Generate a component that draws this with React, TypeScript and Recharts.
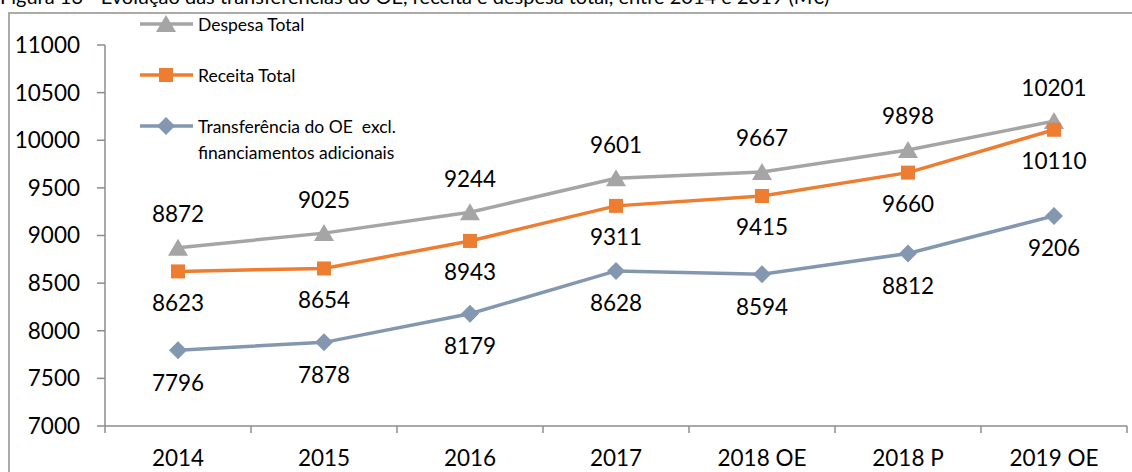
import { LineChart, Line, XAxis, YAxis, LabelList } from 'recharts';

const categories = ['2014', '2015', '2016', '2017', '2018 OE', '2018 P', '2019 OE'];
const despesaTotal = [8872, 9025, 9244, 9601, 9667, 9898, 10201];
const receitaTotal = [8623, 8654, 8943, 9311, 9415, 9660, 10110];
const transferenciaOE = [7796, 7878, 8179, 8628, 8594, 8812, 9206];
const yTicks = [7000, 7500, 8000, 8500, 9000, 9500, 10000, 10500, 11000];

const W = 1132;
const H = 472;
const M = { top: 45, right: 5, left: 0, bottom: 0 };
const Y_W = 105;
const BAND = (W - M.left - Y_W - M.right) / categories.length;

const GREY = '#A5A5A5';
const ORANGE = '#ED7D31';
const BLUE = '#8497B0';
const AXIS = '#8C8C8C';
const FONT = 'Lato, "Open Sans", sans-serif';

const data = categories.map((c, i) => ({
  cat: c,
  despesa: despesaTotal[i],
  receita: receitaTotal[i],
  transf: transferenciaOE[i],
}));

const Triangle = ({ cx, cy, fill }: any) =>
  cx == null ? null : (
    <polygon points={`${cx},${cy - 9} ${cx + 10},${cy + 8} ${cx - 10},${cy + 8}`} fill={fill} />
  );
const Square = ({ cx, cy, fill }: any) =>
  cx == null ? null : <rect x={cx - 7} y={cy - 7} width={14} height={14} fill={fill} />;
const Diamond = ({ cx, cy, fill }: any) =>
  cx == null ? null : (
    <polygon points={`${cx},${cy - 9} ${cx + 9},${cy} ${cx},${cy + 9} ${cx - 9},${cy}`} fill={fill} />
  );

const makeLabel = (dy: number) => (props: any) => {
  const { x, y, value } = props;
  return (
    <text x={x} y={y + dy} textAnchor="middle" dominantBaseline="central" fontSize={22.5} fontFamily={FONT} fill="#000">
      {value}
    </text>
  );
};

const XTick = (props: any) => {
  const { x, y, payload, index } = props;
  const last = index === categories.length - 1;
  return (
    <g>
      <line x1={x - BAND / 2} x2={x - BAND / 2} y1={y} y2={y + 7} stroke={AXIS} strokeWidth={1.5} />
      {last && <line x1={x + BAND / 2} x2={x + BAND / 2} y1={y} y2={y + 7} stroke={AXIS} strokeWidth={1.5} />}
      <text x={x} y={y + 31} textAnchor="middle" dominantBaseline="central" fontSize={22.5} fontFamily={FONT} fill="#000">
        {payload.value}
      </text>
    </g>
  );
};

const legendItems = [
  { label: ['Despesa Total'], color: GREY, Marker: Triangle, y: 24 },
  { label: ['Receita Total'], color: ORANGE, Marker: Square, y: 75 },
  { label: ['Transferência do OE  excl.', 'financiamentos adicionais'], color: BLUE, Marker: Diamond, y: 126 },
];

const LegendBox = () => (
  <svg width={460} height={170} style={{ display: 'block' }}>
    {legendItems.map((it) => (
      <g key={it.label[0]}>
        <line x1={140} x2={193} y1={it.y} y2={it.y} stroke={it.color} strokeWidth={3.5} />
        <it.Marker cx={166} cy={it.y} fill={it.color} />
        {it.label.map((t, j) => (
          <text key={t} x={198} y={it.y + j * 26} dominantBaseline="central" fontSize={17.5} fontFamily={FONT} fill="#000" style={{ whiteSpace: 'pre' }}>
            {t}
          </text>
        ))}
      </g>
    ))}
  </svg>
);

export default function App() {
  return (
    <div style={{ position: 'absolute', left: 0, top: 0, width: W, height: H, overflow: 'hidden', background: '#fff' }}>
      <div
        style={{
          position: 'absolute',
          left: 0,
          top: -14,
          fontSize: 20,
          lineHeight: '20px',
          fontFamily: FONT,
          whiteSpace: 'nowrap',
          color: '#000',
        }}
      >
        Figura 13 - Evolução das transferências do OE, receita e despesa total, entre 2014 e 2019 (M€)
      </div>
      <div
        style={{
          position: 'absolute',
          left: 8,
          top: 12,
          width: W,
          height: H,
          border: '2px solid #ABABAB',
          boxSizing: 'border-box',
        }}
      />
      <div style={{ position: 'absolute', left: 0, top: 0 }}>
        <LineChart width={W} height={H} data={data} margin={M}>
          <XAxis
            dataKey="cat"
            scale="band"
            height={46}
            stroke={AXIS}
            strokeWidth={1.5}
            tickLine={false}
            tickSize={0}
            tickMargin={0}
            tick={<XTick />}
            interval={0}
          />
          <YAxis
            width={Y_W}
            domain={[7000, 11000]}
            ticks={yTicks}
            interval={0}
            stroke={AXIS}
            strokeWidth={1.5}
            tickSize={8}
            tickMargin={17}
            tick={{ fontSize: 22.5, fontFamily: FONT, fill: '#000' }}
          />
          <Line dataKey="despesa" stroke={GREY} strokeWidth={3.5} dot={<Triangle fill={GREY} />} isAnimationActive={false}>
            <LabelList dataKey="despesa" content={makeLabel(-34)} />
          </Line>
          <Line dataKey="receita" stroke={ORANGE} strokeWidth={3.5} dot={<Square fill={ORANGE} />} isAnimationActive={false}>
            <LabelList dataKey="receita" content={makeLabel(31)} />
          </Line>
          <Line dataKey="transf" stroke={BLUE} strokeWidth={3.5} dot={<Diamond fill={BLUE} />} isAnimationActive={false}>
            <LabelList dataKey="transf" content={makeLabel(32)} />
          </Line>
        </LineChart>
      </div>
      <div style={{ position: 'absolute', left: 0, top: 0 }}>
        <LegendBox />
      </div>
    </div>
  );
}
